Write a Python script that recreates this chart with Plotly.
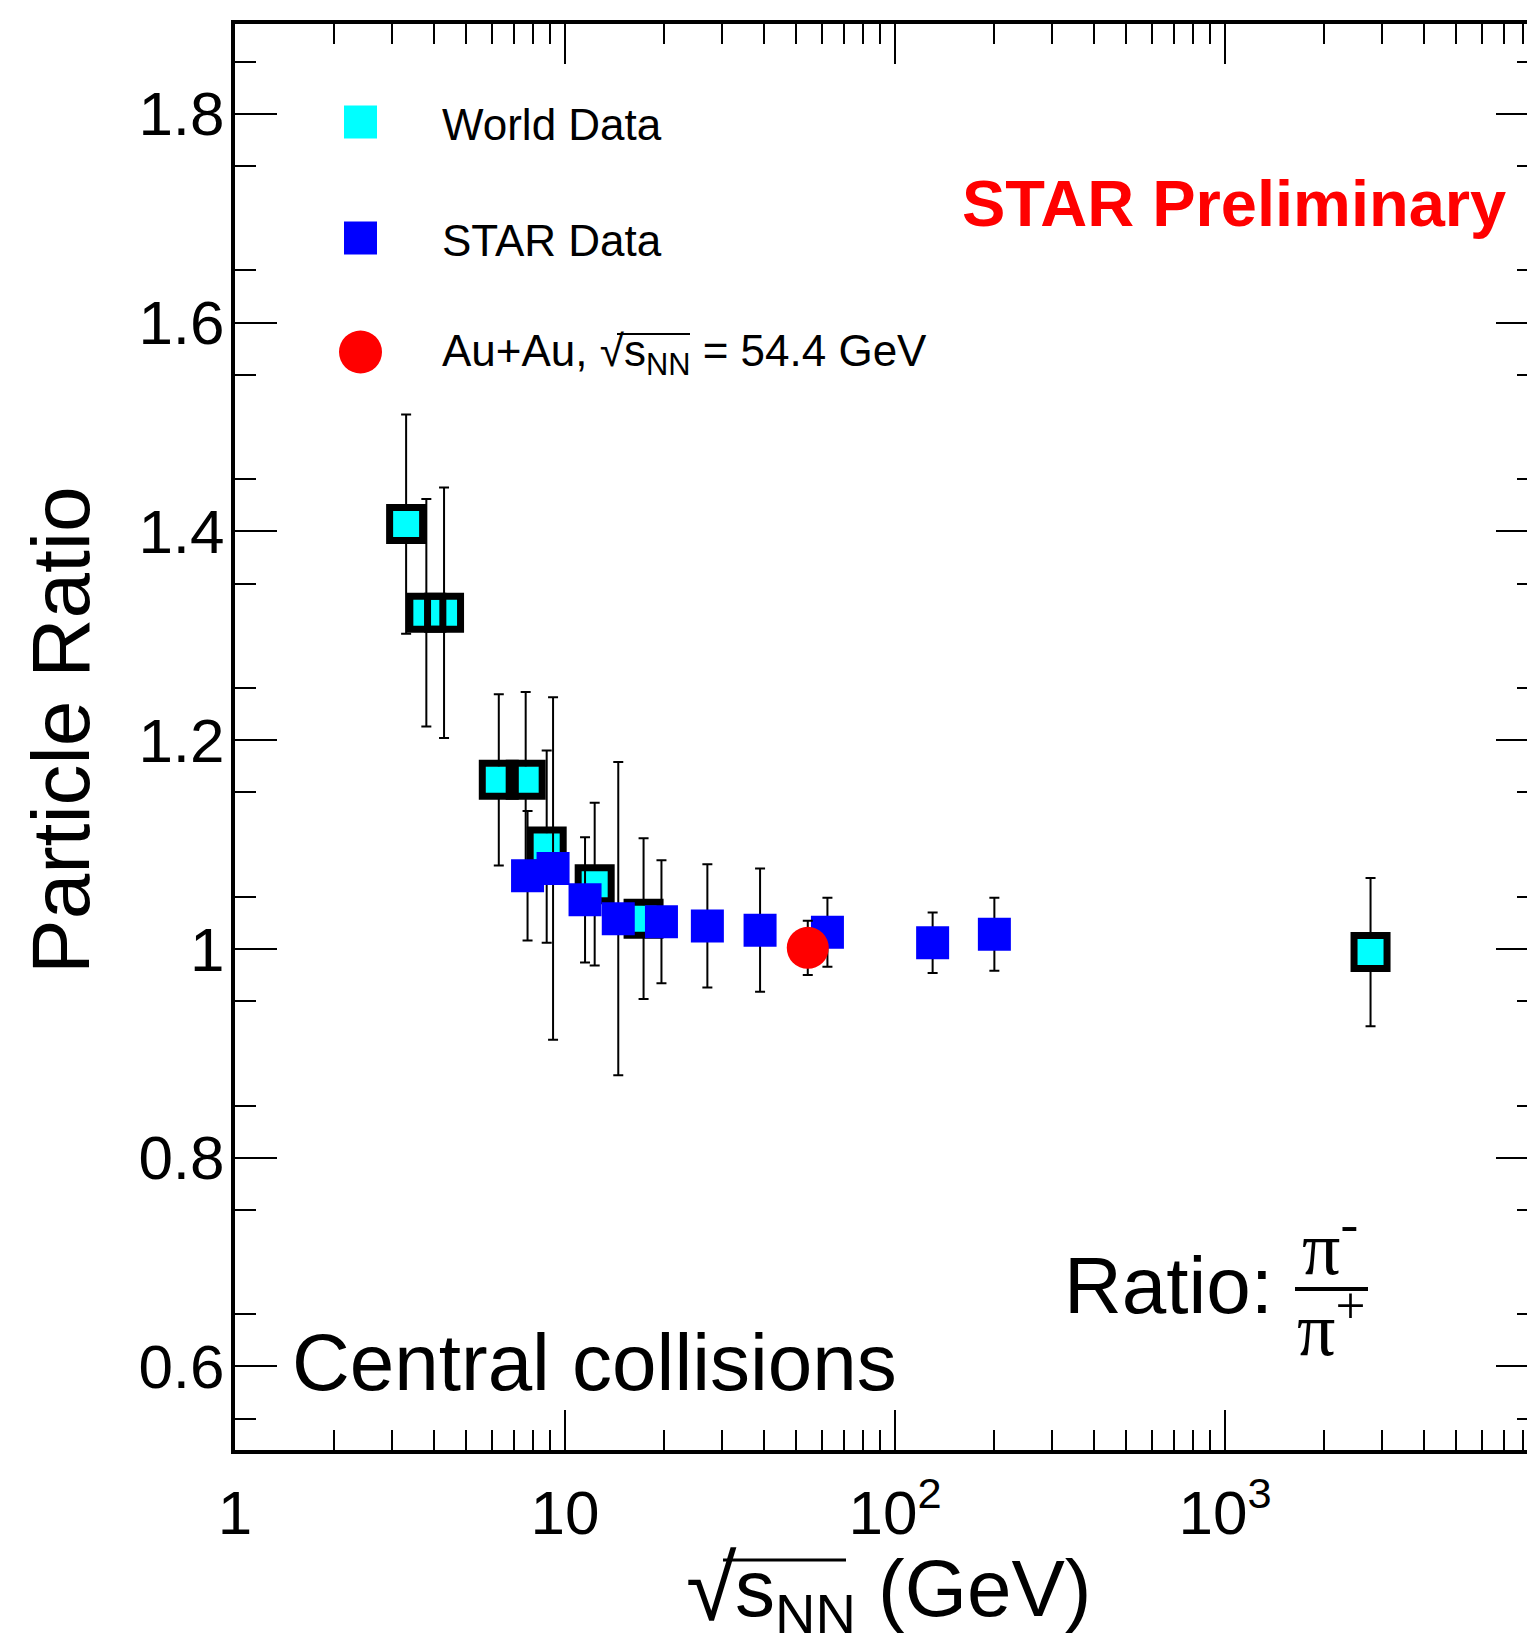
import plotly.graph_objects as go

# ---------------- data ----------------
world_energy = [3.3, 3.8, 4.3, 6.3, 7.6, 8.8, 12.3, 17.3, 2760]
world_ratio = [1.407, 1.322, 1.322, 1.162, 1.162, 1.098, 1.062, 1.029, 0.997]
world_error = [0.105, 0.109, 0.120, 0.082, 0.084, 0.092, 0.078, 0.077, 0.071]

star_energy = [7.7, 9.2, 11.5, 14.5, 19.6, 27, 39, 62.4, 130, 200]
star_ratio = [1.070, 1.077, 1.047, 1.029, 1.026, 1.022, 1.018, 1.016, 1.006, 1.014]
star_error = [0.062, 0.164, 0.060, 0.150, 0.059, 0.059, 0.059, 0.033, 0.029, 0.035]

auau_energy = [54.4]
auau_ratio = [1.001]
auau_error = [0.026]

x_tick_vals = [1, 10, 100, 1000]
x_tick_text = ["1", "10", "10<sup>2</sup>", "10<sup>3</sup>"]
y_tick_vals = [0.6, 0.8, 1.0, 1.2, 1.4, 1.6, 1.8]
y_tick_text = ["0.6", "0.8", "1", "1.2", "1.4", "1.6", "1.8"]

legend_labels = ["World Data", "STAR Data", "Au+Au, √s<sub>NN</sub> = 54.4 GeV"]

# ---------------- geometry ----------------
W, H = 1527, 1648
L, R, T, B = 235, 0, 24, 198
PW, PH = W - L - R, H - T - B
FONT = "Liberation Sans, Arial, Helvetica, sans-serif"
SERIF = "Liberation Serif, Times New Roman, serif"


def fx(p):
    return (p - L) / PW


def fy(p):
    return (H - B - p) / PH


x_minor = [m * 10 ** e for e in range(4) for m in range(2, 10)]
y_minor = [round(0.55 + 0.1 * i, 2) for i in range(14)]

err_style = dict(type="data", color="black", thickness=2, width=5)

fig = go.Figure()
fig.add_trace(go.Scatter(
    x=world_energy, y=world_ratio, mode="markers",
    marker=dict(symbol="square", size=27, color="#00ffff", line=dict(width=0)),
    error_y=dict(array=world_error, **err_style), hoverinfo="x+y"))
fig.add_trace(go.Scatter(
    x=world_energy, y=world_ratio, mode="markers",
    marker=dict(symbol="square-open", size=33, color="black", line=dict(width=7, color="black")),
    hoverinfo="skip"))
fig.add_trace(go.Scatter(
    x=star_energy, y=star_ratio, mode="markers",
    marker=dict(symbol="square", size=33, color="#0000ff", line=dict(width=0)),
    error_y=dict(array=star_error, **err_style)))
fig.add_trace(go.Scatter(
    x=auau_energy, y=auau_ratio, mode="markers", yaxis="y2",
    marker=dict(symbol="circle", size=42, color="#ff0000", line=dict(width=0)),
    error_y=dict(array=auau_error, **err_style)))

axis_common = dict(showgrid=False, zeroline=False, linecolor="black",
                   ticks="inside", tickcolor="black", tickwidth=2)

fig.update_layout(
    width=W, height=H, margin=dict(l=L, r=R, t=T, b=B, pad=0),
    paper_bgcolor="white", plot_bgcolor="white", showlegend=False,
    font=dict(family=FONT, color="black"),
    xaxis=dict(type="log", range=[0, 3.915], showline=True, linewidth=4, mirror="ticks",
               tickmode="array", tickvals=x_tick_vals, ticktext=x_tick_text,
               ticklen=40, tickfont=dict(size=62, family=FONT), ticklabelstandoff=6,
               minor=dict(tickmode="array", tickvals=x_minor, ticks="inside", ticklen=20,
                          tickwidth=2, tickcolor="black", showgrid=False),
               **axis_common),
    yaxis=dict(range=[0.520, 1.886], showline=True, linewidth=4, mirror=False,
               tickmode="array", tickvals=y_tick_vals, ticktext=y_tick_text,
               ticklen=42, tickfont=dict(size=62, family=FONT), ticklabelstandoff=-6,
               minor=dict(tickmode="array", tickvals=y_minor, ticks="inside", ticklen=21,
                          tickwidth=2, tickcolor="black", showgrid=False),
               **axis_common),
    yaxis2=dict(range=[0.520, 1.886], overlaying="y", side="right", anchor="x",
                showline=False, showticklabels=False,
                tickmode="array", tickvals=y_tick_vals, ticklen=31,
                minor=dict(tickmode="array", tickvals=y_minor, ticks="inside", ticklen=10,
                           tickwidth=2, tickcolor="black", showgrid=False),
                **axis_common),
)


def text(t, xp, yp, size, xanchor="left", yanchor="middle", color="black", family=FONT, angle=0):
    fig.add_annotation(text=t, x=fx(xp), y=fy(yp), xref="paper", yref="paper",
                       xanchor=xanchor, yanchor=yanchor, showarrow=False,
                       textangle=angle, font=dict(size=size, color=color, family=family))


def hline(x0, x1, y, width):
    fig.add_shape(type="line", xref="paper", yref="paper", x0=fx(x0), x1=fx(x1),
                  y0=fy(y), y1=fy(y), line=dict(color="black", width=width))


# axis titles
text("Particle Ratio", 60, 730, 82, xanchor="center", angle=-90)
text("√", 684, 1588, 92)
text("s<sub>NN</sub> (GeV)", 733, 1594, 80)
hline(723, 846, 1560, 3)

# legend
leg_y = [122, 238, 352]
fig.add_shape(type="rect", xref="paper", yref="paper", x0=fx(344), x1=fx(377),
              y0=fy(leg_y[0] - 16.5), y1=fy(leg_y[0] + 16.5), fillcolor="#00ffff", line=dict(width=0))
fig.add_shape(type="rect", xref="paper", yref="paper", x0=fx(344), x1=fx(377),
              y0=fy(leg_y[1] - 16.5), y1=fy(leg_y[1] + 16.5), fillcolor="#0000ff", line=dict(width=0))
fig.add_shape(type="circle", xref="paper", yref="paper", x0=fx(339), x1=fx(382),
              y0=fy(leg_y[2] - 21.5), y1=fy(leg_y[2] + 21.5), fillcolor="#ff0000", line=dict(width=0))
for lab, yy in zip(legend_labels, leg_y):
    text(lab, 440, yy + 2, 44)
hline(617, 690, 334, 2)

# other labels
text("<b>STAR Preliminary</b>", 1508, 203, 65, xanchor="right", color="#ff0000")
text("Central collisions", 290, 1362, 80)
text("Ratio:", 1062, 1285, 80)
text("π<sup>-</sup>", 1300, 1242, 76, family=SERIF)
text("π<sup>+</sup>", 1295, 1323, 76, family=SERIF)
hline(1295, 1368, 1289, 4)

fig.write_html("out.html")
